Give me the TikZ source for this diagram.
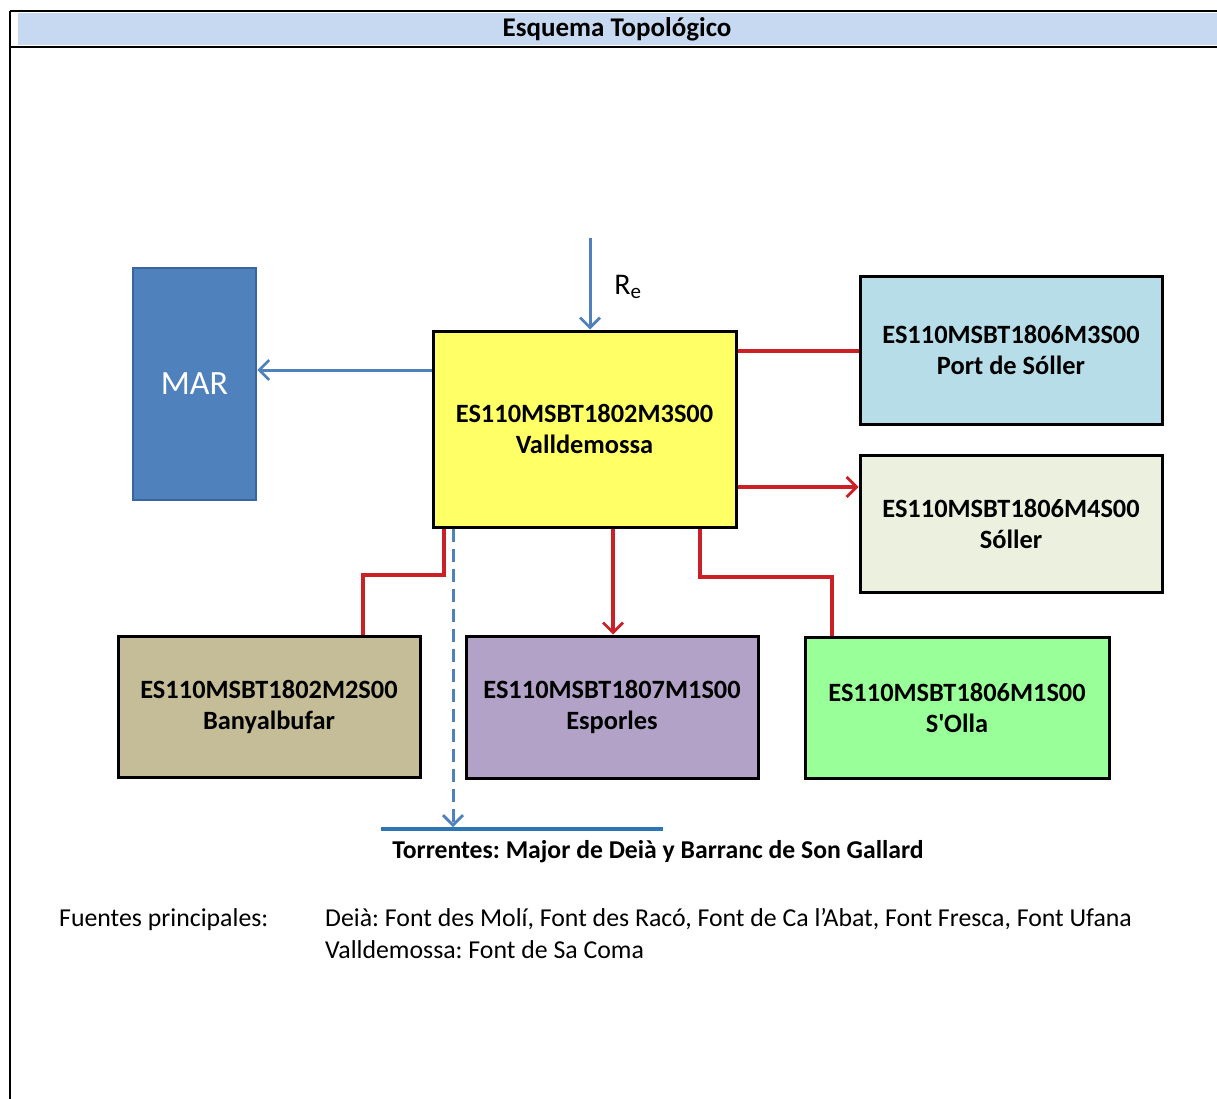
\documentclass[tikz,border=0pt]{standalone}
\usepackage{fontspec}
\setmainfont{Carlito}[Ligatures=TeXOff]
\usetikzlibrary{arrows.meta,calc}
\frenchspacing
\definecolor{bandblue}{HTML}{C6D9F1}
\definecolor{marfill}{HTML}{4F81BD}
\definecolor{mardraw}{HTML}{3A64A0}
\definecolor{yellowbox}{HTML}{FFFF66}
\definecolor{portfill}{HTML}{B7DEE8}
\definecolor{sollerfill}{HTML}{EBF1DE}
\definecolor{banyafill}{HTML}{C4BD97}
\definecolor{esporfill}{HTML}{B3A2C7}
\definecolor{ollafill}{HTML}{99FF99}
\definecolor{linkred}{HTML}{CC2027}
\definecolor{flowblue}{HTML}{4F81BD}
\definecolor{torrentblue}{HTML}{2E75B6}
\tikzset{
  mass/.style={draw=black, line width=3pt, inner sep=0pt, align=center,
    font=\fontsize{26.4}{31}\selectfont\bfseries},
  redlink/.style={draw=linkred, line width=3.2pt},
  redarrow/.style={redlink, -{Straight Barb[length=10pt,width=20pt,line width=2.8pt]}},
  bluearrow/.style={draw=flowblue, line width=3pt, -{Straight Barb[length=10pt,width=20pt,line width=2.8pt]}},
  frame/.style={draw=black, line width=2pt},
  footnote/.style={anchor=base west, inner sep=0pt, font=\fontsize{25.8}{30}\selectfont},
}
\begin{document}
\begin{tikzpicture}[x=1pt,y=-1pt]
\useasboundingbox (0,0) rectangle (1217,1099);
\fill[white] (0,0) rectangle (1217,1099);

% table frame and header band
\fill[bandblue] (18,13) rectangle (1217,45);
\draw[frame] (10,11) -- (1217,11);
\draw[frame] (10,47) -- (1217,47);
\draw[frame] (10,11) -- (10,1099);
\node[font=\fontsize{27}{30}\selectfont\bfseries] (title) at (617,29) {Esquema Topológico};

% water bodies
\node[draw=mardraw, fill=marfill, line width=2.5pt, minimum width=123pt, minimum height=232pt,
  text=white, font=\fontsize{34}{38}\selectfont] (mar) at (194.5,384) {MAR};
\node[mass, fill=yellowbox, minimum width=303pt, minimum height=196pt] (valle) at (584.5,429)
  {ES110MSBT1802M3S00\\Valldemossa};
\node[mass, fill=portfill, minimum width=302pt, minimum height=148pt] (port) at (1011,350)
  {ES110MSBT1806M3S00\\Port de Sóller};
\node[mass, fill=sollerfill, minimum width=302pt, minimum height=137pt] (soller) at (1011,523.5)
  {ES110MSBT1806M4S00\\Sóller};
\node[mass, fill=banyafill, minimum width=302pt, minimum height=141pt] (banya) at (269,706.5)
  {ES110MSBT1802M2S00\\Banyalbufar};
\node[mass, fill=esporfill, minimum width=292pt, minimum height=142pt] (espor) at (612,707)
  {ES110MSBT1807M1S00\\Esporles};
\node[mass, fill=ollafill, minimum width=304pt, minimum height=141pt] (olla) at (957,707.5)
  {ES110MSBT1806M1S00\\S'Olla};

% recharge
\coordinate (rein) at (590,238);
\draw[bluearrow] (rein) -- (rein |- valle.north);
\node[font=\fontsize{30}{34}\selectfont] (re) at (628,287) {R\textsubscript{e}};

% discharge to the sea
\coordinate (seay) at (0,370);
\draw[bluearrow] (valle.west |- seay) -- (mar.east |- seay);

% lateral connections
\coordinate (porty) at (0,351);
\draw[redlink] (valle.east |- porty) -- (port.west |- porty);
\coordinate (solly) at (0,487);
\draw[redarrow] (valle.east |- solly) -- (soller.west |- solly);

\coordinate (bx1) at (444,575);
\coordinate (bx2) at (363,575);
\draw[redlink] (valle.south -| bx1) -- (bx1) -- (bx2) -- (banya.north -| bx2);

\coordinate (ex) at (613,0);
\draw[redarrow] (valle.south -| ex) -- (espor.north -| ex);

\coordinate (ox1) at (700,577);
\coordinate (ox2) at (832,577);
\draw[redlink] (valle.south -| ox1) -- (ox1) -- (ox2) -- (olla.north -| ox2);

% streams
\coordinate (tl) at (381,829);
\coordinate (tr) at (663,829);
\coordinate (tdrop) at (453,827);
\draw[torrentblue, line width=4pt] (tl) -- (tr);
\draw[flowblue, line width=3pt, dash pattern=on 13pt off 7pt,
  -{Straight Barb[length=10pt,width=20pt,line width=2.8pt]}] (valle.south -| tdrop) -- (tdrop);
\node[font=\fontsize{25.7}{30}\selectfont\bfseries] (torr) at (658,852)
  {Torrentes: Major de Deià y Barranc de Son Gallard};

% springs
\node[footnote] (fp) at (59,926) {Fuentes principales:};
\node[footnote] (f1) at (325,926)
  {Deià: Font des Molí, Font des Racó, Font de Ca l’Abat, Font Fresca, Font Ufana};
\node[footnote] (f2) at (325,958) {Valldemossa: Font de Sa Coma};
\end{tikzpicture}
\end{document}
